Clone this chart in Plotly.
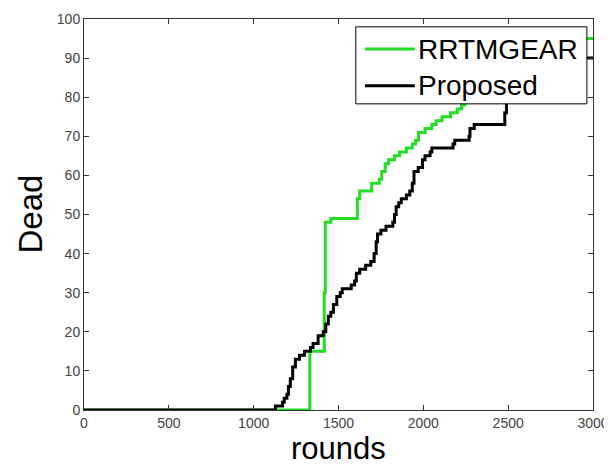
import plotly.graph_objects as go

# RRTMGEAR (green) step series: rounds, dead nodes
rrtm_rounds = [0, 1331, 1416, 1422, 1455, 1611, 1625, 1695, 1740, 1755, 1775, 1795, 1830, 1860,
               1900, 1935, 1955, 1972, 2010, 2050, 2075, 2110, 2160, 2200, 2225, 2245, 2260,
               2330, 2450, 2560, 2680, 2820, 3000]
rrtm_dead = [0, 15, 30, 48, 49, 54, 56, 58, 59, 61, 63, 64, 65, 66,
             67, 68, 69, 71, 72, 73, 74, 75, 76, 77, 78, 79, 81,
             84, 88, 90, 92, 95, 95]

# Proposed (black) step series
prop_rounds = [0, 1128, 1170, 1180, 1196, 1205, 1216, 1230, 1246, 1270, 1300, 1335, 1350, 1380,
               1410, 1425, 1440, 1455, 1470, 1490, 1510, 1522, 1575, 1595, 1605, 1625, 1660,
               1690, 1710, 1722, 1730, 1750, 1780, 1820, 1830, 1840, 1855, 1870, 1900, 1920,
               1935, 1945, 1970, 1995, 2010, 2040, 2050, 2175, 2185, 2270, 2275, 2300, 2480,
               2490, 2550, 2650, 2750, 2850, 3000]
prop_dead = [0, 1, 2, 3, 4, 6, 8, 11, 13, 14, 15, 16, 17, 19,
             20, 22, 24, 25, 27, 29, 30, 31, 32, 33, 35, 36, 37,
             38, 40, 43, 45, 46, 47, 48, 50, 52, 53, 54, 55, 56,
             58, 61, 62, 64, 65, 66, 67, 68, 69, 70, 72, 73, 76,
             79, 82, 85, 88, 90, 90]

series_names = ["RRTMGEAR", "Proposed"]
series_colors = ["#22dd22", "black"]

x_ticks = [0, 500, 1000, 1500, 2000, 2500, 3000]
y_ticks = [0, 10, 20, 30, 40, 50, 60, 70, 80, 90, 100]

FONT = "Liberation Sans, Arial, sans-serif"

fig = go.Figure()
fig.add_trace(go.Scatter(x=rrtm_rounds, y=rrtm_dead, mode="lines", name=series_names[0],
                         showlegend=False,
                         line=dict(color=series_colors[0], width=3, shape="hv")))
fig.add_trace(go.Scatter(x=prop_rounds, y=prop_dead, mode="lines", name=series_names[1],
                         showlegend=False,
                         line=dict(color=series_colors[1], width=3, shape="hv")))

axis_common = dict(showline=True, linecolor="#333333", linewidth=1, mirror="ticks",
                   ticks="inside", ticklen=5, tickcolor="#333333", showgrid=False,
                   zeroline=False, automargin=False,
                   tickfont=dict(family=FONT, size=14, color="#444444"))

# Legend drawn as box + line samples + text (paper coordinates)
shapes = [dict(type="rect", xref="paper", yref="paper", x0=0.534, x1=0.988, y0=0.783, y1=0.980,
               line=dict(color="black", width=1), fillcolor="white", layer="above")]
annotations = []
legend_rows_y = [0.923, 0.829]
for name, color, ly in zip(series_names, series_colors, legend_rows_y):
    shapes.append(dict(type="line", xref="paper", yref="paper", x0=0.552, x1=0.650, y0=ly, y1=ly,
                       line=dict(color=color, width=3), layer="above"))
    annotations.append(dict(text=name, xref="paper", yref="paper", x=0.653, y=ly,
                            xanchor="left", yanchor="middle", showarrow=False,
                            font=dict(family=FONT, size=28, color="black")))

# Axis titles
annotations.append(dict(text="rounds", xref="paper", yref="paper", x=0.5, y=-0.098,
                        xanchor="center", yanchor="middle", showarrow=False,
                        font=dict(family=FONT, size=31, color="black")))
annotations.append(dict(text="Dead", xref="paper", yref="paper", x=-0.106, y=0.5,
                        xanchor="center", yanchor="middle", showarrow=False, textangle=-90,
                        font=dict(family=FONT, size=33, color="black")))

fig.update_layout(
    width=612, height=465,
    margin=dict(l=76, r=27, t=11, b=63),
    paper_bgcolor="white", plot_bgcolor="white",
    font=dict(family=FONT),
    xaxis=dict(range=[0, 3000], tickvals=x_ticks, **axis_common),
    yaxis=dict(range=[0, 100], tickvals=y_ticks, **axis_common),
    shapes=shapes,
    annotations=annotations,
    showlegend=False,
)

fig.write_html("out.html")
